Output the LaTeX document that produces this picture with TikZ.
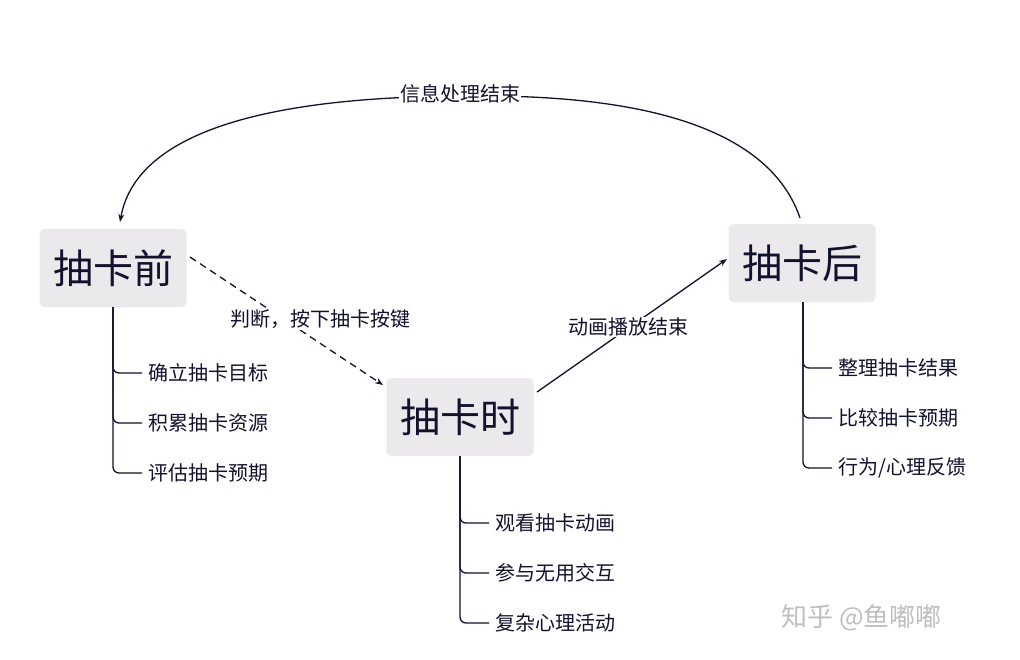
\documentclass[tikz,border=0pt]{standalone}
\usepackage{fontspec}
\setmainfont{Noto Sans CJK SC}
\usetikzlibrary{arrows.meta}
\definecolor{ln}{HTML}{12122E}
\definecolor{bx}{HTML}{ECE9EC}
\begin{document}
\begin{tikzpicture}[x=1pt,y=-1pt,
  stage/.style={fill=bx,rounded corners=5pt,minimum width=147pt,minimum height=78pt,font=\fontsize{40}{44}\selectfont,text=ln,inner sep=0pt},
  item/.style={anchor=west,font=\fontsize{20}{24}\selectfont,text=ln,inner sep=0pt},
  lbl/.style={fill=white,font=\fontsize{20}{24}\selectfont,text=ln,inner sep=1pt},
  con/.style={draw=ln,line width=1.3pt},
  br/.style={draw=ln,line width=1.3pt,rounded corners=6pt}]
\useasboundingbox (0,0) rectangle (1020,659);
\fill[white] (0,0) rectangle (1020,659);
\node[stage] (a) at (113,268) {抽卡前};
\node[stage] (b) at (460,417) {抽卡时};
\node[stage] (c) at (802,263) {抽卡后};
\node[item] (a1) at (148,373) {确立抽卡目标};
\node[item] (a2) at (148,423) {积累抽卡资源};
\node[item] (a3) at (148,473) {评估抽卡预期};
\node[item] (b1) at (495,523) {观看抽卡动画};
\node[item] (b2) at (495,573) {参与无用交互};
\node[item] (b3) at (495,623) {复杂心理活动};
\node[item] (c1) at (838,368) {整理抽卡结果};
\node[item] (c2) at (838,418) {比较抽卡预期};
\node[item] (c3) at (838,468) {行为/心理反馈};
\foreach \i in {1,2,3}{
  \draw[br] (a.south) |- ([xshift=-6pt]a\i.west);
  \draw[br] (b.south) |- ([xshift=-6pt]b\i.west);
  \draw[br] ([xshift=1pt]c.south) |- ([xshift=-6pt]c\i.west);
}
\coordinate (cs) at (800,218);
\coordinate (ae) at (120,222);
\draw[con,-{Stealth[length=8pt]}] (cs) .. controls (760,100) and (560,95) .. (460,96)
  .. controls (340,97) and (140,110) .. (ae);
\node[lbl] at (460,94) {信息处理结束};
\draw[con,dashed,dash pattern=on 7pt off 5pt,-{Stealth[length=8pt]}] (190,257) -- (383,385);
\node[lbl] at (320,319) {判断，按下抽卡按键};
\draw[con,-{Stealth[length=8pt]}] (537,392) -- (727,259);
\node[lbl] at (628,327) {动画播放结束};
\node[anchor=west,font=\fontsize{26}{30}\selectfont,text=black!25] at (778,618) {知乎 @鱼嘟嘟};
\end{tikzpicture}
\end{document}
